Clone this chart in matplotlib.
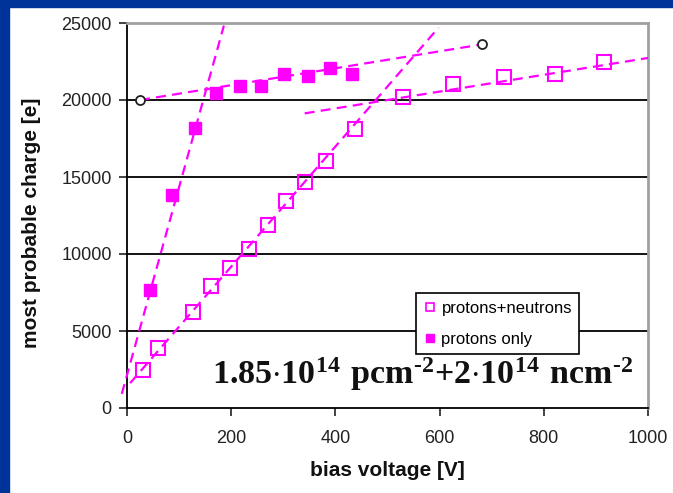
import numpy as np
import matplotlib
matplotlib.use("Agg")
import matplotlib.pyplot as plt
from matplotlib.patches import Rectangle
from matplotlib.lines import Line2D

# measured points
pn_v = [30, 59, 126, 161, 198, 234, 270, 305, 341, 381, 437, 529, 626, 723, 821, 915]
pn_q = [2480, 3890, 6230, 7890, 9080, 10330, 11870, 13460, 14700, 16060, 18090,
        20210, 21010, 21500, 21720, 22440]
p_v = [45, 86, 130, 170, 216, 257, 302, 348, 389, 432]
p_q = [7670, 13830, 18200, 20470, 20900, 20900, 21720, 21570, 22110, 21720]

# straight-line guides: slope [e/V], offset [e], voltage range
fit_slope = [122, 5.5, 39, 5.46]
fit_offset = [2140, 19862, 1380, 17270]
fit_vmin = [-10, 25, 6, 341]
fit_vmax = [186, 681, 598, 1000]

x_ticks = [0, 200, 400, 600, 800, 1000]
y_ticks = [0, 5000, 10000, 15000, 20000, 25000]

MAG = "#ff00ff"
plt.rcParams["font.family"] = ["Liberation Sans", "DejaVu Sans"]
plt.rcParams["mathtext.fontset"] = "custom"
plt.rcParams["mathtext.rm"] = "Liberation Serif:bold"
plt.rcParams["mathtext.bf"] = "Liberation Serif:bold"

fig = plt.figure(figsize=(6.73, 4.93), dpi=100)
fig.patches.append(Rectangle((0, 0), 8.7 / 673, 1, transform=fig.transFigure,
                             color="#003399", zorder=0))
fig.patches.append(Rectangle((0, 1 - 7.3 / 493), 1, 7.3 / 493, transform=fig.transFigure,
                             color="#003399", zorder=0))

ax = fig.add_axes([127 / 673, 1 - 408 / 493, 521 / 673, 385 / 493])
ax.set_xlim(0, 1000)
ax.set_ylim(0, 25000)
ax.set_xticks(x_ticks)
ax.set_yticks(y_ticks)
ax.tick_params(labelsize=13, length=6, width=1.2, colors="#222222", pad=5)
ax.tick_params(axis="x", pad=10)

for s in ["top", "right"]:
    ax.spines[s].set_color("#a0a0a0")
    ax.spines[s].set_linewidth(2)
for s in ["left", "bottom"]:
    ax.spines[s].set_color("black")
    ax.spines[s].set_linewidth(1.3)

for y in y_ticks[1:-1]:
    ax.axhline(y, color="black", lw=1.3, zorder=1)

# dashed guide lines
for k in range(4):
    v = np.array([fit_vmin[k], fit_vmax[k]])
    ax.plot(v, fit_slope[k] * v + fit_offset[k], color=MAG, lw=1.6,
            dashes=(4.5, 2.8), zorder=4, clip_on=False)

# end points of the flat proton line
cv = np.array([fit_vmin[1], fit_vmax[1]])
ax.plot(cv, fit_slope[1] * cv + fit_offset[1], "o", ls="none", ms=6.5,
        mfc="white", mec="#222222", mew=1.3, zorder=5)

ax.plot(pn_v, pn_q, "s", ls="none", ms=10.5, mfc="none", mec=MAG, mew=1.5, zorder=3)
ax.plot(p_v, p_q, "s", ls="none", ms=8.5, mfc=MAG, mec=MAG, zorder=3)

handles = [Line2D([], [], marker="s", ls="none", ms=6, mfc="white", mec=MAG, mew=1.2),
           Line2D([], [], marker="s", ls="none", ms=6, mfc=MAG, mec=MAG)]
leg = ax.legend(handles, ["protons+neutrons", "protons only"], loc="upper left",
                bbox_to_anchor=(0.554, 0.298), fontsize=12, frameon=True,
                fancybox=False, edgecolor="black", framealpha=1,
                handlelength=0.8, handletextpad=0.3, borderpad=0.45,
                labelspacing=0.95, borderaxespad=0)
leg.get_frame().set_linewidth(1.2)
leg.set_zorder(6)

HY = "\u2010"
fluence = (r"$\mathbf{1.85{\cdot}10^{14}\ pcm^{" + HY + r"2}{+}2{\cdot}10^{14}\ "
           r"ncm^{" + HY + r"2}}$")
ax.text(0.163, 0.062, fluence, transform=ax.transAxes, ha="left", va="baseline",
        fontsize=24.5, color="#111111", zorder=7)

fig.text(32 / 673, 1 - 223 / 493, "most probable charge [e]", rotation=90,
         ha="center", va="center", fontsize=15, fontweight="bold", color="#111111")
fig.text(387 / 673, 1 - 470 / 493, "bias voltage [V]", ha="center", va="center",
         fontsize=15, fontweight="bold", color="#111111")

fig.savefig("out.png", dpi=100)
